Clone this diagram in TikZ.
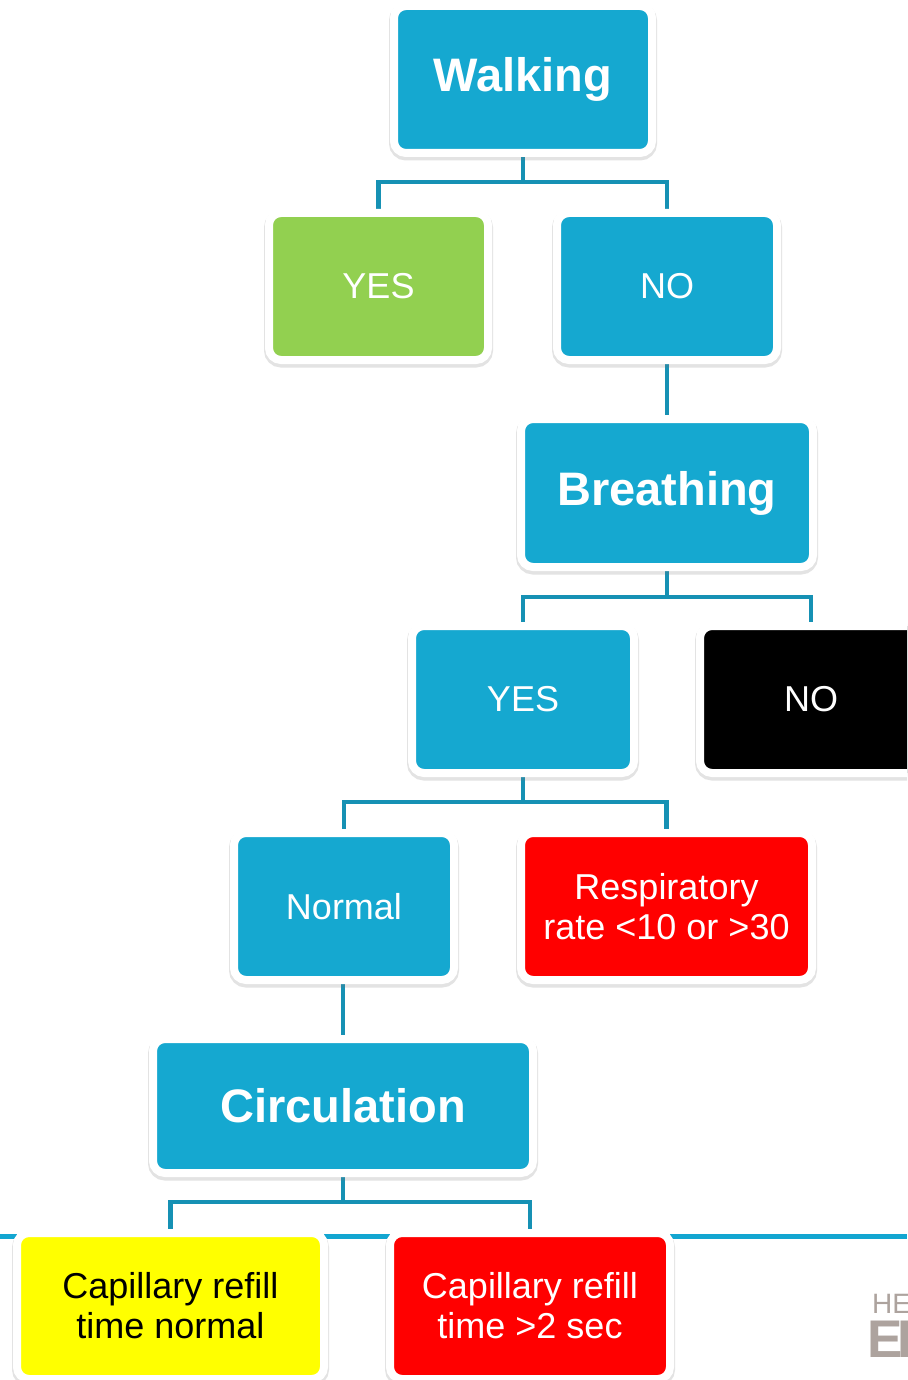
\documentclass[tikz,border=0pt]{standalone}
\usepackage{fontspec}
\setmainfont{Liberation Sans}
\usetikzlibrary{shadows,backgrounds}
\definecolor{boxblue}{RGB}{21,168,208}
\definecolor{boxgreen}{RGB}{146,208,80}
\definecolor{boxred}{RGB}{255,0,0}
\definecolor{boxyellow}{RGB}{255,255,0}
\definecolor{connc}{RGB}{22,145,180}
\definecolor{barc}{RGB}{19,166,209}
\definecolor{logoc}{RGB}{173,163,158}
\tikzset{
  box/.style={draw=white, line width=8pt, rounded corners=12pt, inner sep=0pt,
    align=center, text=white,
    drop shadow={shadow xshift=0pt, shadow yshift=-2.5pt, opacity=0.2,
      fill=black!55, draw=black!55, line width=10pt}},
  headtxt/.style={font=\bfseries\fontsize{47}{52}\selectfont},
  bodytxt/.style={font=\fontsize{36}{40}\selectfont},
  conn/.style={draw=connc, line width=4.5pt},
}
\begin{document}
\begin{tikzpicture}[x=1pt,y=-1pt]
\useasboundingbox (0,0) rectangle (907,1380);
\clip (0,0) rectangle (907,1380);

% nodes
\node[box, headtxt, fill=boxblue, minimum width=258pt, minimum height=147pt] (walk) at (523,79.5) {\raisebox{-3pt}{Walking}};
\node[box, bodytxt, fill=boxgreen, minimum width=219pt, minimum height=147pt] (yes1) at (378.5,286.5) {YES};
\node[box, bodytxt, fill=boxblue, minimum width=220pt, minimum height=147pt] (no1) at (667,286.5) {NO};
\node[box, headtxt, fill=boxblue, minimum width=292pt, minimum height=148pt] (breath) at (667,493) {\raisebox{-3pt}{Breathing}};
\node[box, bodytxt, fill=boxblue, minimum width=222pt, minimum height=147pt] (yes2) at (523,699.5) {YES};
\node[box, bodytxt, fill=black, minimum width=222pt, minimum height=147pt] (no2) at (811,699.5) {NO};
\node[box, bodytxt, fill=boxblue, minimum width=220pt, minimum height=147pt] (normal) at (344,906.5) {Normal};
\node[box, bodytxt, fill=boxred, minimum width=291pt, minimum height=147pt] (resp) at (666.5,906.5) {Respiratory\\rate <10 or >30};
\node[box, headtxt, fill=boxblue, minimum width=380pt, minimum height=134pt] (circ) at (343,1106) {Circulation};
\node[box, bodytxt, fill=boxyellow, text=black, minimum width=307pt, minimum height=146pt] (cap1) at (170.5,1306) {Capillary refill\\time normal};
\node[box, bodytxt, fill=boxred, minimum width=280pt, minimum height=146pt] (cap2) at (530,1306) {Capillary refill\\time >2 sec};

% logo text
\node[anchor=base west, inner sep=0pt, text=logoc, font=\fontsize{28}{30}\selectfont] (logo1) at (872,1313) {HE};
\node[anchor=base west, inner sep=0pt, text=logoc, font=\bfseries\fontsize{53}{58}\selectfont] (logo2) at (867,1357) {E\kern-5pt I};

\begin{pgfonlayer}{background}
  \fill[white] (0,0) rectangle (907,1380);
  \coordinate (barL) at (0,1236);
  \coordinate (barR) at (907,1236);
  \draw[draw=barc, line width=5pt] (barL) -- (barR);
  \draw[conn] (walk.south) -- (walk.south |- 0,182) -| (yes1.north);
  \draw[conn] (walk.south |- 0,182) -| (no1.north);
  \draw[conn] (no1.south) -- (breath.north);
  \draw[conn] (breath.south) -- (breath.south |- 0,597) -| (yes2.north);
  \draw[conn] (breath.south |- 0,597) -| (no2.north);
  \draw[conn] (yes2.south) -- (yes2.south |- 0,802) -| (normal.north);
  \draw[conn] (yes2.south |- 0,802) -| (resp.north);
  \draw[conn] (normal.south) -- (normal.south -| circ.north) -- (circ.north);
  \draw[conn] (circ.south) -- (circ.south |- 0,1202) -| (cap1.north);
  \draw[conn] (circ.south |- 0,1202) -| (cap2.north);
\end{pgfonlayer}
\end{tikzpicture}
\end{document}
